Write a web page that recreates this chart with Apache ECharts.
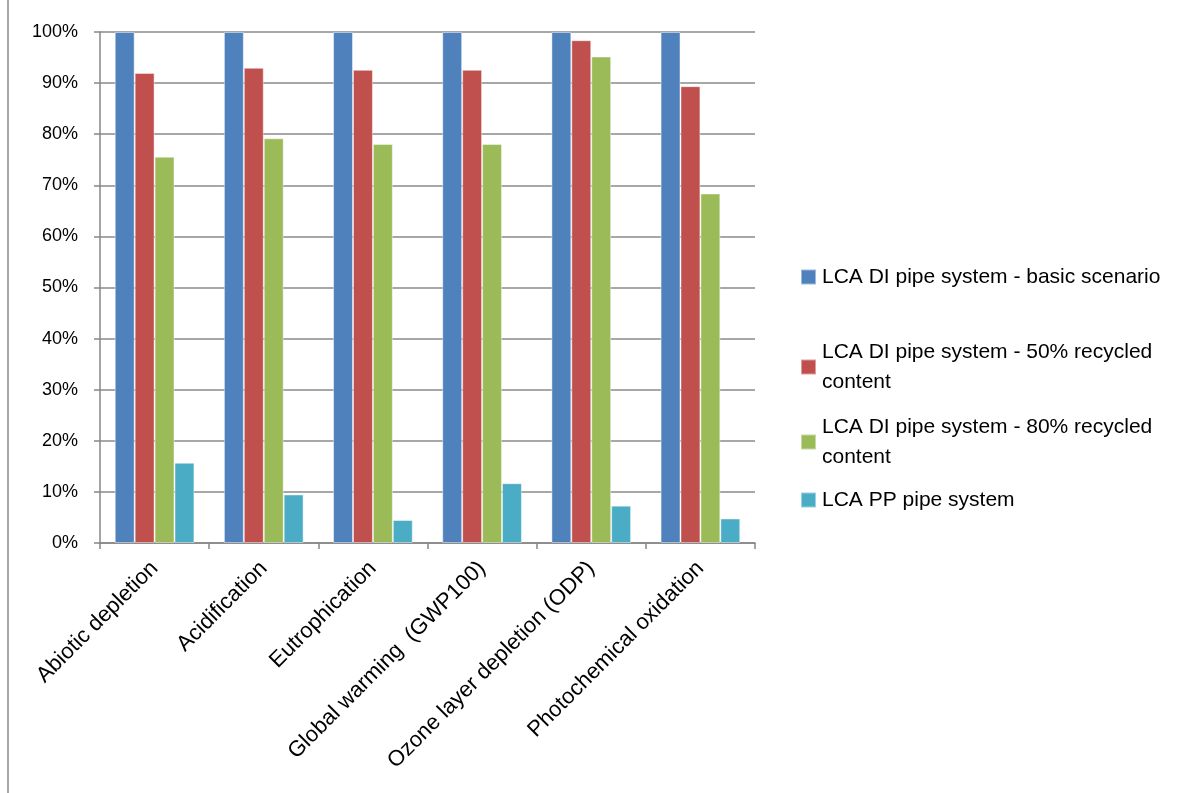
<!DOCTYPE html>
<html>
<head>
<meta charset="utf-8">
<script src="https://cdn.jsdelivr.net/npm/echarts@6/dist/echarts.min.js"></script>
<style>
  html, body { margin: 0; padding: 0; background: #fff; }
  #chart { width: 1187px; height: 793px; }
</style>
</head>
<body>
<div id="chart"></div>
<script>
const categories = ['Abiotic depletion', 'Acidification', 'Eutrophication',
  'Global warming  (GWP100)', 'Ozone layer depletion (ODP)', 'Photochemical oxidation'];
const seriesNames = ['LCA DI pipe system - basic scenario',
  'LCA DI pipe system - 50% recycled content',
  'LCA DI pipe system - 80% recycled content',
  'LCA PP pipe system'];
const basicScenario = [100, 100, 100, 100, 100, 100];
const recycled50 = [92.0, 93.0, 92.6, 92.6, 98.4, 89.4];
const recycled80 = [75.6, 79.2, 78.1, 78.1, 95.2, 68.4];
const ppSystem = [15.7, 9.5, 4.5, 11.7, 7.3, 4.8];
const colors = ['#4F81BD', '#C0504D', '#9BBB59', '#4BACC6'];

const FONT = '"Liberation Sans", Arial, sans-serif';
const allData = [basicScenario, recycled50, recycled80, ppSystem];

let chart = echarts.init(document.getElementById('chart'), null, { renderer: 'canvas' });

// one legend per item so wrapped names keep the square beside the first line
const legendTops = [257, 332, 407, 480];
const legends = seriesNames.map((name, i) => {
  const twoLine = name.indexOf('recycled') >= 0;
  return {
    data: [name],
    left: 795,
    top: twoLine ? legendTops[i] - 15 : legendTops[i],
    icon: 'rect',
    itemWidth: 15,
    itemHeight: 15,
    itemGap: 0,
    selectedMode: false,
    formatter: n => n.replace(' content', '\ncontent'),
    textStyle: {
      fontFamily: FONT,
      fontSize: 21,
      color: '#000',
      lineHeight: 30,
      padding: twoLine ? [30, 0, 0, 1] : [0, 0, 0, 1]
    }
  };
});

chart.setOption({
  animation: false,
  backgroundColor: '#fff',
  color: colors,
  legend: legends,
  grid: { left: 100, right: 432, top: 32, bottom: 250, containLabel: false },
  xAxis: {
    type: 'category',
    data: categories,
    axisLine: { lineStyle: { color: '#868686', width: 1.5 } },
    axisTick: { show: true, length: 6, lineStyle: { color: '#868686', width: 1.5 } },
    axisLabel: {
      rotate: 45,
      interval: 0,
      margin: 22,
      fontFamily: FONT,
      fontSize: 22,
      color: '#000'
    }
  },
  yAxis: {
    type: 'value',
    min: 0,
    max: 100,
    interval: 10,
    axisLine: { show: true, lineStyle: { color: '#868686', width: 1.5 } },
    axisTick: { show: true, length: 6, lineStyle: { color: '#868686', width: 1.5 } },
    axisLabel: {
      formatter: '{value}%',
      margin: 22,
      fontFamily: FONT,
      fontSize: 18,
      color: '#000'
    },
    splitLine: { lineStyle: { color: '#8a8a8a', width: 1.5 } }
  },
  graphic: [{
    type: 'line',
    shape: { x1: 8, y1: 0, x2: 8, y2: 793 },
    style: { stroke: '#8a8a8a', lineWidth: 1.5 }
  }],
  series: seriesNames.map((name, i) => ({
    name: name,
    type: 'bar',
    data: allData[i],
    barGap: '0%',
    barCategoryGap: '27%',
    itemStyle: {
      color: colors[i],
      borderColor: 'rgba(255,255,255,0.45)',
      borderWidth: 1
    }
  }))
});
</script>
</body>
</html>
